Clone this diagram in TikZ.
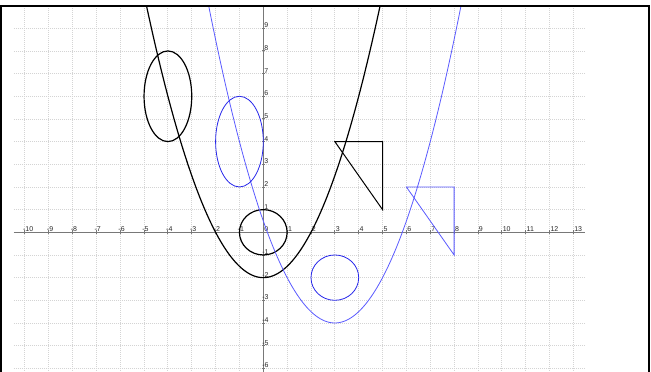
\documentclass[tikz,border=0pt]{standalone}
\usepackage{fontspec}
\setmainfont{Liberation Sans}
\definecolor{gridc}{RGB}{212,212,212}
\definecolor{axisc}{RGB}{120,120,120}
\definecolor{labc}{RGB}{40,40,40}
\definecolor{blueA}{RGB}{90,90,255}
\definecolor{blueB}{RGB}{40,40,235}
\tikzset{
  gridline/.style={gridc, line width=0.8pt, dash pattern=on 1pt off 1pt},
  axisline/.style={axisc, line width=0.9pt},
  blackcurve/.style={black, line width=1.2pt},
  bluecurve/.style={blueA, line width=0.8pt},
  blueshape/.style={blueB, line width=0.8pt},
  lab/.style={labc, font=\fontsize{7pt}{8pt}\selectfont, inner sep=0.3pt},
}
\begin{document}
\begin{tikzpicture}[x=23.85pt, y=22.67pt]
\useasboundingbox (-263.3pt,-139.7pt) rectangle (387.7pt,232.3pt);
\fill[white] (-263.3pt,-139.7pt) rectangle (387.7pt,232.3pt);
\begin{scope}
\clip (-262pt,-139.7pt) rectangle (384pt,225.5pt);
% grid
\foreach \i in {-10,...,13} \draw[gridline] (\i,-6.2) -- (\i,10);
\foreach \j in {-6,...,9} \draw[gridline] (-263.3pt+14pt,\j) -- (585pt-263.3pt,\j);
% axes
\draw[axisline] (-263.3pt+14pt,0) -- (585pt-263.3pt,0);
\draw[axisline] (0,-6.3) -- (0,10);
\foreach \i in {-10,...,-1,1,2,...,13} \draw[axisline] (\i,-1.5pt) -- (\i,2.5pt);
\foreach \j in {-6,...,-1,1,2,...,9} \draw[axisline] (-1.5pt,\j) -- (2pt,\j);
% labels
\foreach \i in {-10,...,-1} \node[lab, anchor=south west] (xl\i) at ([xshift=-2.2pt]\i,0.5pt) {-\the\numexpr-\i\relax};
\node[lab, anchor=south west] (xl0) at (0.5pt,0.5pt) {0};
\foreach \i in {1,...,13} \node[lab, anchor=south west] (xl\i) at ([xshift=0.5pt]\i,0.5pt) {\i};
\foreach \j in {1,...,9} \node[lab, anchor=south west] (yl\j) at ([xshift=0.5pt]0,\j) {\j};
\foreach \j in {-6,...,-1} \node[lab, anchor=south west] (yl\j) at ([xshift=-1.5pt]0,\j) {-\the\numexpr-\j\relax};
% black shapes
\draw[blackcurve, domain=-4.95:4.95, samples=120, smooth] plot (\x, {\x*\x/2-2});
\draw[blackcurve] (-4,6) ellipse [x radius=1, y radius=2];
\draw[blackcurve] (0,0) ellipse [x radius=1, y radius=1];
\draw[black, line width=1pt] (3,4) coordinate (ta) -- (5,4) coordinate (tb) -- (5,1) coordinate (tc) -- cycle;
% blue shapes
\draw[bluecurve, domain=-2.45:8.45, samples=120, smooth] plot (\x, {(\x-3)*(\x-3)/2-4});
\draw[blueshape] (-1,4) ellipse [x radius=1, y radius=2];
\draw[blueshape] (3,-2) ellipse [x radius=1, y radius=1];
\draw[bluecurve] (6,2) coordinate (ua) -- (8,2) coordinate (ub) -- (8,-1) coordinate (uc) -- cycle;
\end{scope}
% frame
\draw[black, line width=2.2pt] (-262.4pt,-140pt) -- (-262.4pt,226.6pt) -- (385.4pt,226.6pt) -- (385.4pt,-140pt);
\end{tikzpicture}
\end{document}
